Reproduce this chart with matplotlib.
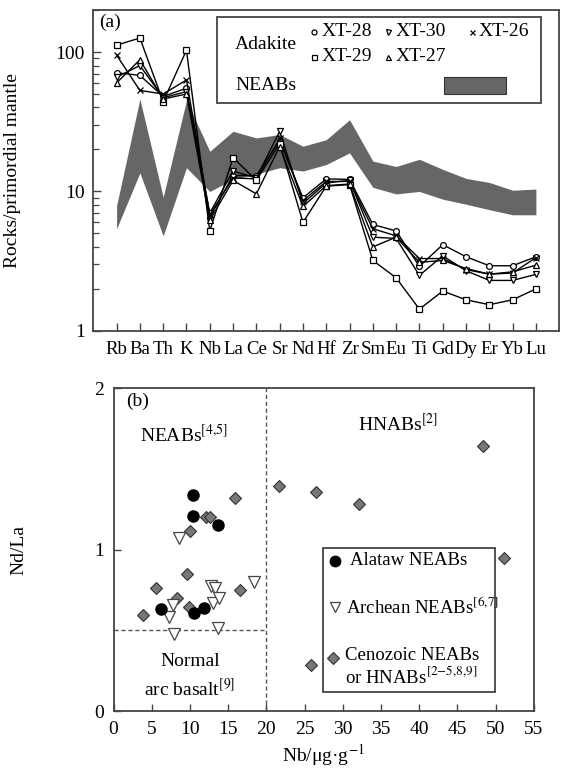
import numpy as np
import matplotlib
matplotlib.use('Agg')
import matplotlib.pyplot as plt
from matplotlib.patches import Rectangle
from matplotlib.ticker import LogLocator, NullFormatter

plt.rcParams['font.family'] = ['Liberation Serif', 'DejaVu Serif']
plt.rcParams['mathtext.fontset'] = 'stix'
plt.rcParams['font.size'] = 14

# --- panel (a): spider diagram ---
elements = ['Rb', 'Ba', 'Th', 'K', 'Nb', 'La', 'Ce', 'Sr', 'Nd', 'Hf',
            'Zr', 'Sm', 'Eu', 'Ti', 'Gd', 'Dy', 'Er', 'Yb', 'Lu']

xt28 = [71, 68, 48, 55, 6.5, 13, 13, 23, 9.0, 12.3, 12.2, 5.8, 5.2, 2.9, 4.15, 3.4, 2.93, 2.93, 3.4]
xt30 = [66, 80, 47, 52, 7.0, 14, 12.5, 27, 8.2, 11.5, 12.0, 4.7, 4.6, 2.5, 3.45, 2.7, 2.3, 2.3, 2.54]
xt26 = [95, 53, 50, 63, 6.8, 12.5, 12.3, 24, 8.6, 11.8, 11.8, 5.4, 4.8, 3.3, 3.3, 2.75, 2.55, 2.6, 3.35]
xt29 = [112, 126, 44, 103, 5.2, 17.5, 12, 22, 6.0, 10.9, 11.2, 3.2, 2.4, 1.43, 1.93, 1.67, 1.54, 1.67, 2.0]
xt27 = [60, 88, 46, 50, 6.2, 12, 9.6, 21, 7.8, 11, 11.3, 4.0, 4.7, 3.1, 3.2, 2.8, 2.55, 2.65, 2.96]

neab_hi = [7.9, 46, 9.1, 45, 19.4, 27, 24.2, 25.6, 21.1, 23.5, 32.7, 16.5, 15.1, 17, 14.4, 12.4, 11.6, 10.2, 10.4]
neab_lo = [5.4, 13.6, 4.8, 14.8, 10, 12.2, 13.3, 14.8, 14.0, 15.6, 18.9, 10.7, 9.6, 10, 8.8, 8.1, 7.4, 6.8, 6.8]

# --- panel (b): Nd/La vs Nb ---
alataw_nb = [10.4, 10.4, 13.7, 6.2, 10.5, 11.9]
alataw_ndla = [1.335, 1.205, 1.15, 0.635, 0.61, 0.64]
archean_nb = [8.6, 7.3, 7.75, 7.9, 12.8, 13.3, 13.0, 13.85, 18.4, 13.7]
archean_ndla = [1.07, 0.58, 0.66, 0.48, 0.775, 0.76, 0.67, 0.70, 0.80, 0.515]
ceno_nb = [3.9, 5.6, 8.3, 9.6, 10.0, 9.9, 12.1, 12.6, 15.9, 16.5, 21.6, 26.5, 32.1, 48.3, 51.1, 25.9]
ceno_ndla = [0.595, 0.763, 0.70, 0.846, 1.113, 0.646, 1.20, 1.20, 1.32, 0.749, 1.395, 1.358, 1.28, 1.642, 0.949, 0.284]

SPINE = '#444444'
BAND = '#666666'

fig = plt.figure(figsize=(5.62, 7.73), dpi=100)
ax = fig.add_axes([0.166, 0.572, 0.829, 0.415])
bx = fig.add_axes([0.202, 0.080, 0.748, 0.418])

# ---------- (a) ----------
x = np.arange(len(elements))
ax.fill_between(x, neab_lo, neab_hi, color=BAND, lw=0, zorder=1)

samples = [(xt28, 'o'), (xt30, 'v'), (xt26, 'x'), (xt29, 's'), (xt27, '^')]
for vals, mk in samples:
    ax.plot(x, vals, color='black', lw=1.0, marker=mk, ms=4.2,
            mfc='white', mec='black', mew=0.9, zorder=3)

ax.set_yscale('log')
ax.set_ylim(1, 200)
ax.set_xlim(-1, 19)
ax.set_yticks([1, 10, 100])
ax.set_yticklabels(['1', '10', '100'])
ax.yaxis.set_minor_locator(LogLocator(base=10, subs=np.arange(2, 10)))
ax.yaxis.set_minor_formatter(NullFormatter())
ax.set_xticks(x)
ax.set_xticklabels(elements)
ax.tick_params(axis='both', which='major', direction='in', length=6,
               width=1, color=SPINE, top=False, right=False, pad=6)
ax.tick_params(axis='y', which='minor', direction='in', length=4,
               width=0.9, color=SPINE)
ax.tick_params(axis='x', pad=7)
for xl in ax.get_xticklabels():
    xl.set_fontsize(13.5)
for s in ax.spines.values():
    s.set_color(SPINE)
    s.set_linewidth(1.3)
ax.set_ylabel('Rocks/primordial mantle', fontsize=14)
ax.yaxis.set_label_coords(-0.155, 0.5)
ax.text(0.013, 0.988, '(a)', transform=ax.transAxes, ha='left', va='top', fontsize=14)

# legend (a)
tr = ax.transAxes
ax.add_patch(Rectangle((0.265, 0.71), 0.697, 0.268, transform=tr,
                       facecolor='white', edgecolor=SPINE, lw=1.3, zorder=5))
ax.text(0.304, 0.894, 'Adakite', transform=tr, ha='left', va='center', fontsize=14, zorder=6)
leg_items = [('o', 'XT-28', 0.474, 0.932), ('v', 'XT-30', 0.633, 0.932),
             ('x', 'XT-26', 0.812, 0.932), ('s', 'XT-29', 0.474, 0.855),
             ('^', 'XT-27', 0.633, 0.855)]
for mk, lab, lx, ly in leg_items:
    ax.plot([lx], [ly], transform=tr, marker=mk, ms=3.6, mfc='white',
            mec='black', mew=0.9, ls='none', zorder=6, clip_on=False)
    ax.text(lx + 0.016, ly, lab, transform=tr, ha='left', va='center', fontsize=14, zorder=6)
ax.text(0.304, 0.765, 'NEABs', transform=tr, ha='left', va='center', fontsize=14, zorder=6)
ax.add_patch(Rectangle((0.752, 0.737), 0.133, 0.053, transform=tr,
                       facecolor=BAND, edgecolor='#333333', lw=0.8, zorder=6))

# ---------- (b) ----------
bx.plot([20, 20], [0, 2], color='#555555', ls=(0, (3, 2)), lw=1.0, zorder=1)
bx.plot([0, 20], [0.5, 0.5], color='#555555', ls=(0, (3, 2)), lw=1.0, zorder=1)

bx.plot(ceno_nb, ceno_ndla, ls='none', marker='D', ms=6.2, mfc='#777777',
        mec='#333333', mew=0.8, zorder=3)
bx.plot(archean_nb, archean_ndla, ls='none', marker='v', ms=9, mfc='white',
        mec='#444444', mew=0.9, zorder=3)
bx.plot(alataw_nb, alataw_ndla, ls='none', marker='o', ms=8, mfc='black',
        mec='black', zorder=4)

bx.set_xlim(0, 55)
bx.set_ylim(0, 2)
bx.set_xticks(np.arange(0, 56, 5))
bx.set_yticks([0, 1, 2])
bx.tick_params(axis='both', direction='in', length=5, width=1, color=SPINE,
               top=False, right=False, pad=7)
for s in bx.spines.values():
    s.set_color(SPINE)
    s.set_linewidth(1.3)
bx.set_ylabel('Nd/La', fontsize=14)
bx.yaxis.set_label_coords(-0.205, 0.5)
bx.set_xlabel('Nb/\u03bcg\u00b7g$^{-1}$', fontsize=14)
bx.xaxis.set_label_coords(0.5, -0.095)

bx.text(0.031, 0.985, '(b)', transform=bx.transAxes, ha='left', va='top', fontsize=14)
bx.text(3.5, 1.71, 'NEABs$^{[4{,}5]}$', ha='left', va='center', fontsize=14)
bx.text(32.0, 1.78, 'HNABs$^{[2]}$', ha='left', va='center', fontsize=14)
bx.text(10.0, 0.31, 'Normal', ha='center', va='center', fontsize=14)
bx.text(10.0, 0.135, 'arc basalt$^{[9]}$', ha='center', va='center', fontsize=14)

# legend (b)
bx.add_patch(Rectangle((27.46, 0.12), 22.47, 0.887, facecolor='white',
                       edgecolor=SPINE, lw=1.3, zorder=5))
bx.plot([29.0], [0.93], ls='none', marker='o', ms=7.5, mfc='black', mec='black', zorder=6)
bx.text(31.0, 0.93, 'Alataw NEABs', ha='left', va='center', fontsize=13.5, zorder=6)
bx.plot([29.0], [0.646], ls='none', marker='v', ms=7.5, mfc='white', mec='#444444',
        mew=0.9, zorder=6)
bx.text(30.4, 0.646, 'Archean NEABs$^{[6{,}7]}$', ha='left', va='center', fontsize=13.5, zorder=6)
bx.plot([28.7], [0.33], ls='none', marker='D', ms=6.2, mfc='#777777', mec='#333333',
        mew=0.8, zorder=6)
bx.text(30.3, 0.347, 'Cenozoic NEABs', ha='left', va='center', fontsize=13.5, zorder=6)
bx.text(30.3, 0.215, 'or HNABs$^{[2{-}5{,}8{,}9]}$', ha='left', va='center', fontsize=13.5, zorder=6)

fig.savefig('out.png', dpi=100)
